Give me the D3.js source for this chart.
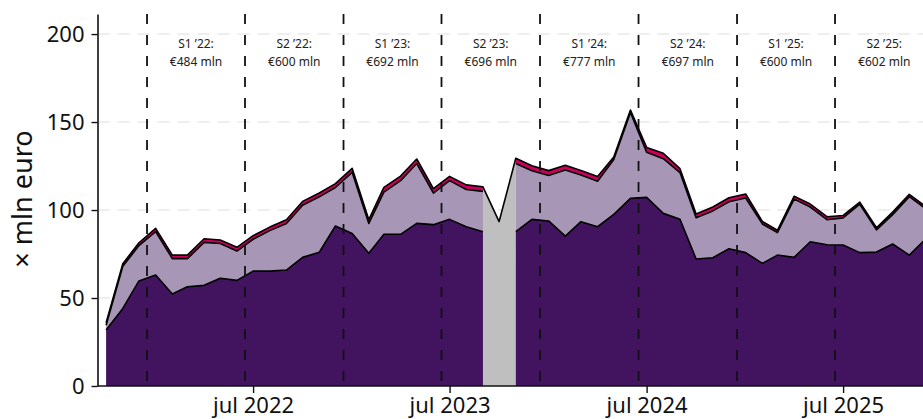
<!DOCTYPE html>
<html>
<head>
<meta charset="utf-8">
<script src="https://cdn.jsdelivr.net/npm/d3@7"></script>
<style>
  html, body { margin: 0; padding: 0; background: #fff; }
  svg { display: block; font-family: "Noto Sans", sans-serif; }
</style>
</head>
<body>
<svg id="chart" width="923" height="419"></svg>
<script>
// monthly values, mln euro
const months = [
  "2021-10","2021-11","2021-12",
  "2022-01","2022-02","2022-03","2022-04","2022-05","2022-06",
  "2022-07","2022-08","2022-09","2022-10","2022-11","2022-12",
  "2023-01","2023-02","2023-03","2023-04","2023-05","2023-06",
  "2023-07","2023-08","2023-09","2023-10","2023-11","2023-12",
  "2024-01","2024-02","2024-03","2024-04","2024-05","2024-06",
  "2024-07","2024-08","2024-09","2024-10","2024-11","2024-12",
  "2025-01","2025-02","2025-03","2025-04","2025-05","2025-06",
  "2025-07","2025-08","2025-09","2025-10","2025-11","2025-12"
];

// bottom layer (dark violet)
const darkValues = [
  31.8, 44.1, 59.7,
  63.1, 52.3, 56.4, 57.2, 61.2, 60.0,
  65.3, 65.3, 65.9, 73.1, 76.0, 90.9,
  86.7, 75.4, 86.2, 86.2, 92.4, 91.7,
  94.7, 90.5, 87.7, null, 87.7, 94.7,
  93.8, 85.2, 93.4, 90.5, 97.5, 106.6,
  107.2, 98.1, 94.7, 72.2, 72.9, 78.0,
  75.8, 69.7, 74.4, 73.1, 82.0, 80.3,
  80.1, 75.8, 76.1, 80.7, 74.4, 83.5
];

// middle layer (light violet)
const lightValues = [
  2.7, 23.9, 20.1,
  24.6, 20.1, 16.0, 24.4, 19.8, 16.7,
  18.1, 23.0, 26.4, 29.6, 31.5, 21.9,
  34.7, 17.0, 24.0, 30.5, 34.0, 17.9,
  22.0, 21.2, 22.9, null, 38.8, 27.6,
  25.8, 37.5, 26.5, 25.9, 31.2, 48.9,
  25.6, 31.1, 26.6, 23.4, 26.6, 26.7,
  31.0, 22.4, 12.8, 33.1, 19.7, 14.2,
  15.4, 27.5, 12.6, 16.7, 33.2, 17.4
];

// top layer (thin red band)
const redValues = [
  1.5, 1.5, 1.6,
  1.9, 2.0, 2.0, 2.1, 2.0, 2.1,
  2.0, 2.0, 2.2, 2.2, 2.2, 2.2,
  2.3, 2.1, 2.7, 2.6, 2.6, 2.5,
  2.4, 2.6, 2.6, null, 2.9, 2.9,
  2.8, 2.7, 2.6, 2.6, 1.4, 1.3,
  2.8, 3.0, 2.2, 2.2, 2.2, 2.3,
  2.3, 1.4, 1.3, 1.6, 1.7, 1.7,
  1.4, 1.2, 1.2, 1.4, 1.3, 1.2
];

// month without breakdown: only the total is known
const gapMonth = "2023-10";
const gapTotal = 93.4;

// half-year boundaries and totals
const halfBounds = ["2021-12-16","2022-06-16","2022-12-16","2023-06-16","2023-12-16",
                    "2024-06-16","2024-12-16","2025-06-16","2025-12-16"];
const halfNames = ["S1 \u201922:","S2 \u201922:","S1 \u201923:","S2 \u201923:",
                   "S1 \u201924:","S2 \u201924:","S1 \u201925:","S2 \u201925:"];
const halfAmounts = ["\u20ac484 mln","\u20ac600 mln","\u20ac692 mln","\u20ac696 mln",
                     "\u20ac777 mln","\u20ac697 mln","\u20ac600 mln","\u20ac602 mln"];

const yTicks = [0, 50, 100, 150, 200];
const xTicks = ["2022-07-01","2023-07-01","2024-07-01","2025-07-01"];

const colors = { dark: "#42145f", light: "#a796b6", red: "#ca005d", gap: "#bfbfbf" };

const parseMonth = d3.timeParse("%Y-%m");
const parseDay = d3.timeParse("%Y-%m-%d");
const fmtTick = d3.timeFormat("%Y");

const svg = d3.select("#chart");
const margin = { left: 97.5, top: 14, bottom: 386 };

const x = d3.scaleTime()
  .domain([parseDay("2021-09-15"), parseDay("2025-07-01")])
  .range([margin.left, 843.1]);
const y = d3.scaleLinear()
  .domain([0, 211.4])
  .range([margin.bottom, margin.top]);

const rows = months.map((m, i) => {
  const has = darkValues[i] != null;
  const d0 = darkValues[i], d1 = lightValues[i], d2 = redValues[i];
  return {
    date: parseMonth(m),
    month: m,
    has,
    dark: d0,
    lightTop: has ? d0 + d1 : null,
    total: has ? d0 + d1 + d2 : gapTotal
  };
});

const plotRight = x(parseDay("2026-01-01"));

// grid
svg.append("g")
  .selectAll("line")
  .data(yTicks.filter(t => t > 0))
  .join("line")
  .attr("x1", margin.left).attr("x2", plotRight)
  .attr("y1", d => y(d)).attr("y2", d => y(d))
  .attr("stroke", "#e9e9e9")
  .attr("stroke-width", 1.5)
  .attr("stroke-dasharray", "12,8");

// gray area for the month without breakdown
const gi = months.indexOf(gapMonth);
const gapRows = rows.slice(gi - 1, gi + 2);
svg.append("path")
  .datum(gapRows)
  .attr("fill", colors.gap)
  .attr("d", d3.area().x(d => x(d.date)).y0(y(0)).y1(d => y(d.total)));

// stacked areas
const stackArea = (lo, hi) => d3.area()
  .defined(d => d.has)
  .x(d => x(d.date))
  .y0(d => y(lo(d)))
  .y1(d => y(hi(d)));

svg.append("path").datum(rows).attr("fill", colors.red)
  .attr("d", stackArea(d => d.lightTop, d => d.total));
svg.append("path").datum(rows).attr("fill", colors.light)
  .attr("d", stackArea(d => d.dark, d => d.lightTop));
svg.append("path").datum(rows).attr("fill", colors.dark)
  .attr("d", stackArea(() => 0, d => d.dark));

// outlines
const edge = (acc, defined) => d3.line()
  .defined(defined)
  .x(d => x(d.date))
  .y(d => y(acc(d)));

const lines = svg.append("g").attr("fill", "none").attr("stroke", "#000")
  .attr("stroke-width", 1.6).attr("stroke-linejoin", "round");
lines.append("path").datum(rows).attr("d", edge(d => d.dark, d => d.has));
lines.append("path").datum(rows).attr("d", edge(d => d.lightTop, d => d.has));
lines.append("path").datum(rows).attr("d", edge(d => d.total, () => true));

// half-year dividers
svg.append("g")
  .selectAll("line")
  .data(halfBounds.map(parseDay))
  .join("line")
  .attr("x1", d => x(d)).attr("x2", d => x(d))
  .attr("y1", margin.top).attr("y2", margin.bottom)
  .attr("stroke", "#111")
  .attr("stroke-width", 1.8)
  .attr("stroke-dasharray", "10,11");

// half-year labels
const halfG = svg.append("g")
  .attr("font-size", 12)
  .attr("fill", "#222")
  .attr("text-anchor", "middle");
halfNames.forEach((name, i) => {
  const cx = (x(parseDay(halfBounds[i])) + x(parseDay(halfBounds[i + 1]))) / 2;
  halfG.append("text").attr("x", cx).attr("y", 47.5).text(name);
  halfG.append("text").attr("x", cx).attr("y", 65.5).text(halfAmounts[i]);
});

// axes
const yAxis = svg.append("g")
  .attr("transform", `translate(${margin.left},0)`)
  .call(d3.axisLeft(y).tickValues(yTicks).tickSize(6).tickPadding(7).tickSizeOuter(0));
const xAxis = svg.append("g")
  .attr("transform", `translate(0,${margin.bottom})`)
  .call(d3.axisBottom(x)
    .tickValues(xTicks.map(parseDay))
    .tickFormat(d => "jul " + fmtTick(d))
    .tickSize(7).tickPadding(4).tickSizeOuter(0));
xAxis.select(".domain").attr("d", `M${margin.left},0H${plotRight}`);

[yAxis, xAxis].forEach(ax => {
  ax.attr("font-family", null).attr("font-size", 22);
  ax.select(".domain").attr("stroke", "#111").attr("stroke-width", 1.6);
  ax.selectAll(".tick line").attr("stroke", "#111").attr("stroke-width", 1.4);
  ax.selectAll(".tick text").attr("fill", "#111");
});

// y title
svg.append("text")
  .attr("transform", `translate(32,${(margin.top + margin.bottom) / 2 - 1}) rotate(-90)`)
  .attr("text-anchor", "middle")
  .attr("font-size", 27)
  .attr("fill", "#111")
  .text("\u00d7 mln euro");
</script>
</body>
</html>
